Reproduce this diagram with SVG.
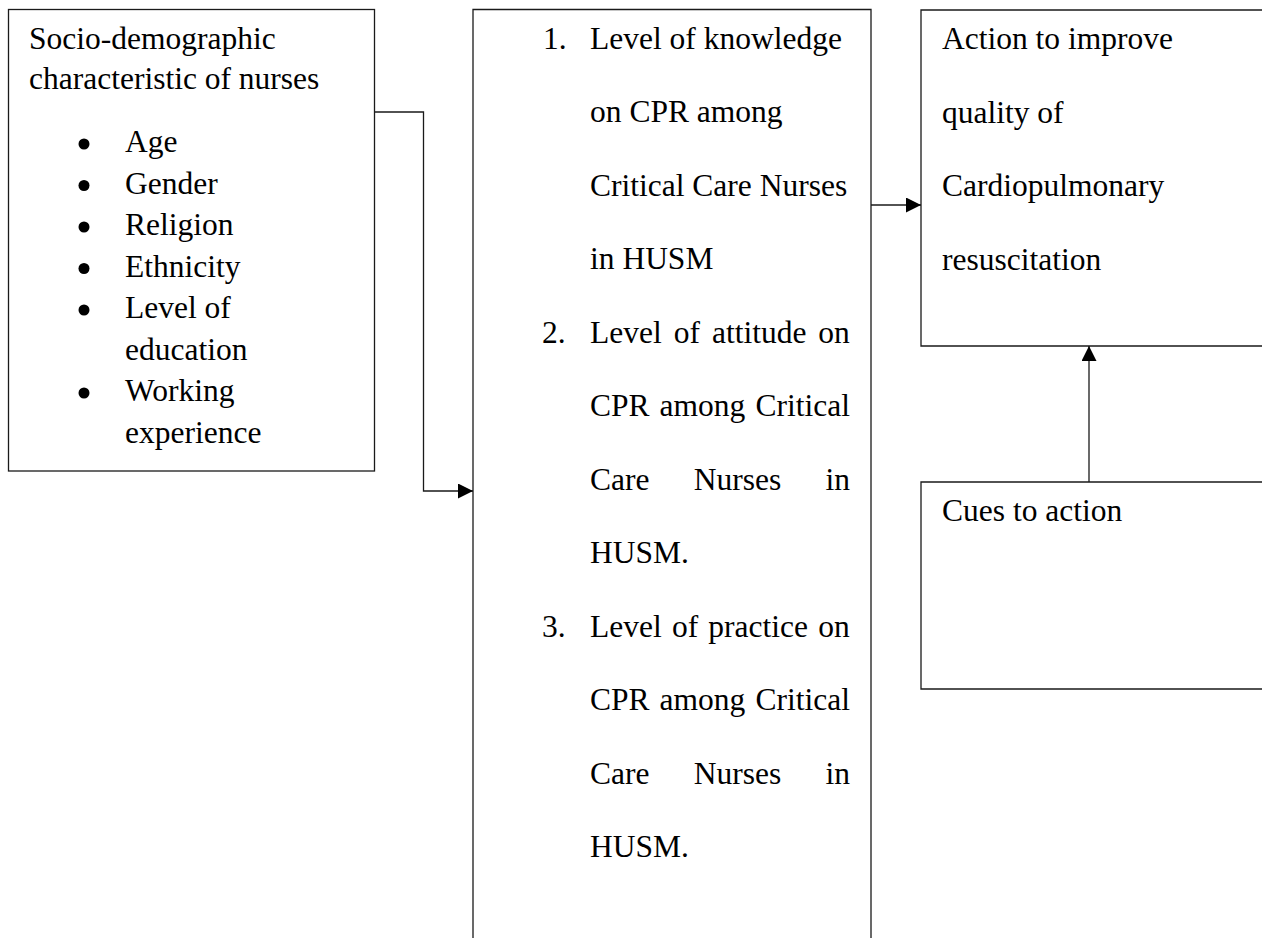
<svg xmlns="http://www.w3.org/2000/svg" width="1262" height="938" viewBox="0 0 1262 938">
<style>
.box{fill:none;stroke:#1a1a1a;stroke-width:1.3}
.t{font-family:"Liberation Serif","Times New Roman",serif;font-size:31.5px;fill:#000}
.dot{fill:#000}
.c{fill:none;stroke:#1a1a1a;stroke-width:1.3}
</style>
<defs>
<marker id="arr" markerUnits="userSpaceOnUse" markerWidth="16" markerHeight="16" refX="15" refY="7.5" orient="auto">
<path d="M0,0 L15,7.5 L0,15 Z" fill="#000"/>
</marker>
</defs>
<rect width="1262" height="938" fill="#fff"/>
<g id="node-socio">
<rect class="box" x="8.5" y="9.5" width="366" height="461.5"/>
<text class="t" x="29" y="49">Socio-demographic</text>
<text class="t" x="29" y="89">characteristic of nurses</text>
<circle class="dot" cx="84" cy="144" r="5.5"/>
<circle class="dot" cx="84" cy="185.5" r="5.5"/>
<circle class="dot" cx="84" cy="227" r="5.5"/>
<circle class="dot" cx="84" cy="268.5" r="5.5"/>
<circle class="dot" cx="84" cy="310" r="5.5"/>
<circle class="dot" cx="84" cy="393" r="5.5"/>
<text class="t" x="125" y="152">Age</text>
<text class="t" x="125" y="193.5">Gender</text>
<text class="t" x="125" y="235">Religion</text>
<text class="t" x="125" y="276.5">Ethnicity</text>
<text class="t" x="125" y="318">Level of</text>
<text class="t" x="125" y="359.5">education</text>
<text class="t" x="125" y="401">Working</text>
<text class="t" x="125" y="442.5">experience</text>
</g>
<g id="node-levels">
<path class="box" d="M473,940 V9.5 H871 V940"/>
<text class="t" x="543" y="48.5">1.</text>
<text class="t" x="590" y="48.5">Level of knowledge</text>
<text class="t" x="590" y="122">on CPR among</text>
<text class="t" x="590" y="195.5">Critical Care Nurses</text>
<text class="t" x="590" y="269">in HUSM</text>
<text class="t" x="542" y="342.5">2.</text>
<text class="t" x="590" y="342.5" word-spacing="4.1">Level of attitude on</text>
<text class="t" x="590" y="416" word-spacing="2.2">CPR among Critical</text>
<text class="t" x="590" y="489.5" word-spacing="36.4">Care Nurses in</text>
<text class="t" x="590" y="563">HUSM.</text>
<text class="t" x="542" y="636.5">3.</text>
<text class="t" x="590" y="636.5" word-spacing="2.3">Level of practice on</text>
<text class="t" x="590" y="710" word-spacing="2.2">CPR among Critical</text>
<text class="t" x="590" y="783.5" word-spacing="36.4">Care Nurses in</text>
<text class="t" x="590" y="857">HUSM.</text>
</g>
<g id="node-action">
<path class="box" d="M1264,10 H921 V346 H1264"/>
<text class="t" x="942" y="49">Action to improve</text>
<text class="t" x="942" y="122.5">quality of</text>
<text class="t" x="942" y="196">Cardiopulmonary</text>
<text class="t" x="942" y="269.5">resuscitation</text>
</g>
<g id="node-cues">
<path class="box" d="M1264,482 H921 V689 H1264"/>
<text class="t" x="942" y="521">Cues to action</text>
</g>
<g id="connectors">
<path class="c" d="M375,112 H423.5 V491 H473" marker-end="url(#arr)"/>
<path class="c" d="M871,205 H921" marker-end="url(#arr)"/>
<path class="c" d="M1089,482 V346" marker-end="url(#arr)"/>
</g>
</svg>
